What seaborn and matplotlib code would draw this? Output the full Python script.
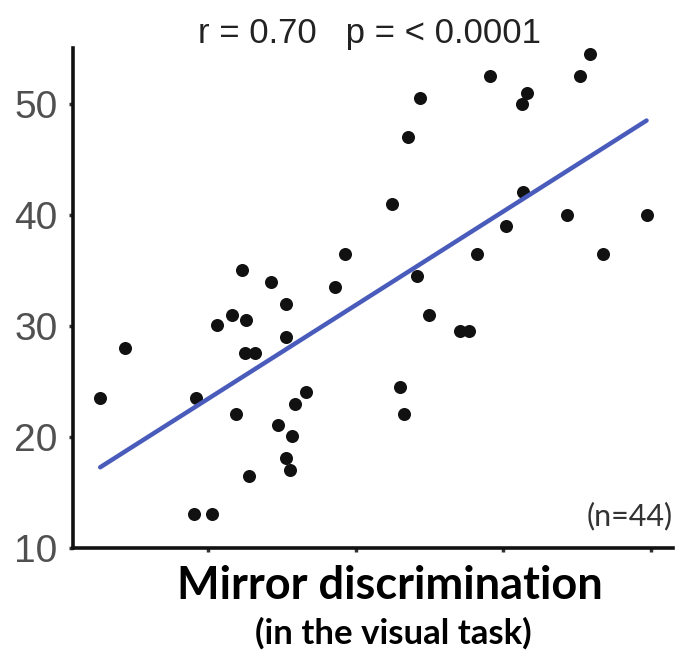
import matplotlib
matplotlib.use('Agg')
import matplotlib.pyplot as plt
import seaborn as sns
import pandas as pd

# data (x axis is unlabelled, ticks every 10 units)
mirror_discrimination = [52.7, 54.4, 59.05, 60.3, 59.2, 60.6, 61.65, 62.55, 62.28, 62.5,
                         63.18, 61.88, 62.8, 64.25, 65.28, 65.3, 68.6, 69.27, 74.13, 74.94,
                         73.03, 73.27, 66.61, 65.89, 64.76, 65.71, 65.26, 65.55, 72.44, 73.52,
                         74.33, 79.09, 81.58, 81.29, 81.35, 80.18, 78.19, 85.88, 85.19, 84.34,
                         89.7, 86.72, 77.06, 77.69]
score = [23.5, 28.0, 13.05, 13.05, 23.54, 30.04, 30.99, 30.51, 35.0, 27.52,
         27.52, 22.02, 16.5, 33.96, 32.0, 29.01, 33.5, 36.48, 34.48, 31.01,
         24.53, 22.02, 24.02, 23.0, 21.03, 20.04, 18.07, 17.04, 40.97, 46.95,
         50.48, 52.45, 50.97, 49.94, 42.05, 39.0, 36.48, 54.44, 52.45, 40.0,
         40.0, 36.48, 29.49, 29.49]
x_ticks = [60, 70, 80, 90]
y_ticks = [10, 20, 30, 40, 50]
stats_text = "r = 0.70   p = < 0.0001"
n_text = "(n=44)"

df = pd.DataFrame({'x': mirror_discrimination, 'y': score})

sns.set_style('white')
plt.rcParams['font.family'] = ['Liberation Sans', 'DejaVu Sans']

fig = plt.figure(figsize=(6.87, 6.53), dpi=100)
ax = fig.add_axes([73 / 687, 105 / 653, 600 / 687, 500 / 653])

sns.regplot(data=df, x='x', y='y', ax=ax, ci=None, truncate=True,
            scatter_kws={'s': 88, 'color': '#111111', 'alpha': 1, 'linewidths': 0},
            line_kws={'color': '#4a5cbb', 'linewidth': 3.2})

ax.set_xlim(50.86, 91.49)
ax.set_ylim(10, 55)
ax.set_xticks(x_ticks)
ax.set_xticklabels([])
ax.set_yticks(y_ticks)
ax.set_yticklabels([str(t) for t in y_ticks], fontsize=28, color='#505050')
ax.tick_params(axis='both', direction='out', length=3, width=2.5, color='#333333',
               pad=8, left=True, bottom=True)
ax.set_xlabel('')
ax.set_ylabel('')

sns.despine(ax=ax)
for side in ['left', 'bottom']:
    ax.spines[side].set_linewidth(2.6)
    ax.spines[side].set_color('#111111')

fig.text(370 / 687, 1 - 43 / 653, stats_text, ha='center', va='baseline',
         fontsize=25, color='#222222')
ax.text(1.0, 0.046, n_text, transform=ax.transAxes, ha='right', va='baseline',
        fontsize=22, color='#333333', family=['Lato', 'DejaVu Sans'])

fig.text(390 / 687, 1 - 599 / 653, 'Mirror discrimination', ha='center', va='baseline',
         fontsize=32.5, fontweight='bold', color='black', family=['Lato', 'DejaVu Sans'])
fig.text(393 / 687, 1 - 644 / 653, '(in the visual task)', ha='center', va='baseline',
         fontsize=25, fontweight='bold', color='black', family=['Lato', 'DejaVu Sans'])

fig.savefig('out.png', dpi=100)
